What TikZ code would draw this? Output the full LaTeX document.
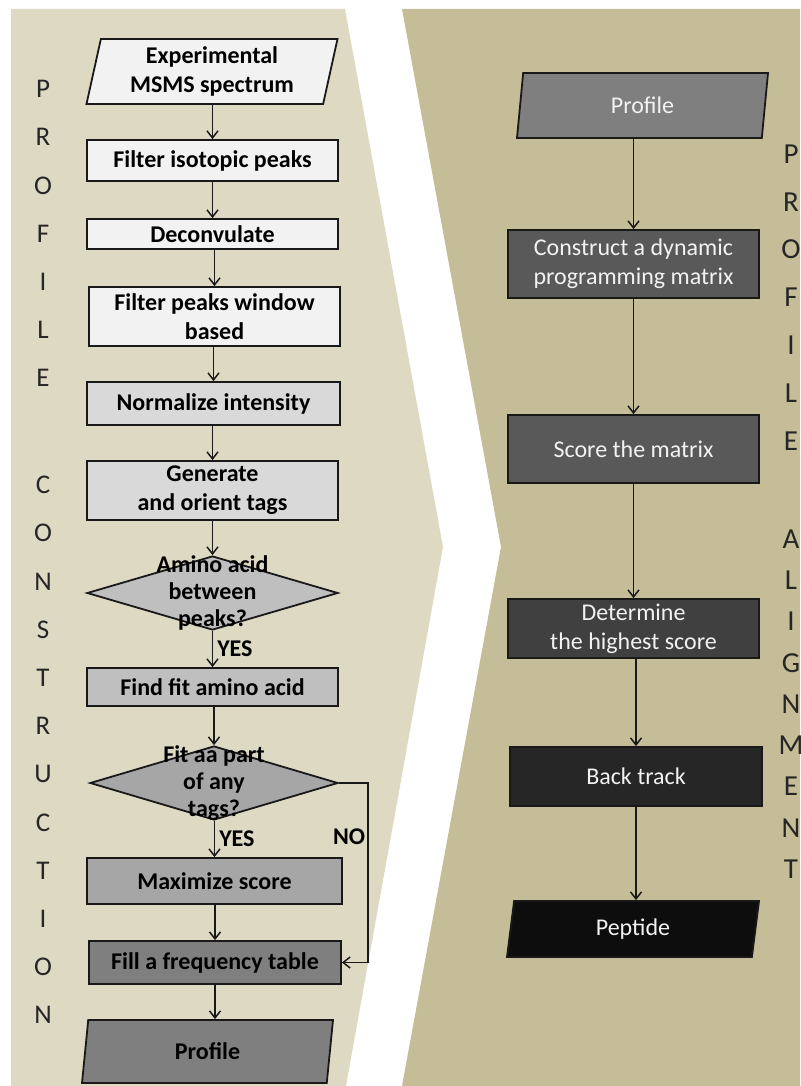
\documentclass[tikz,border=0pt]{standalone}
\usepackage{fontspec}
\setmainfont{Carlito}
\usepackage{tikz}
\usetikzlibrary{positioning,shapes.geometric,arrows.meta}
\definecolor{pale}{RGB}{221,217,195}
\definecolor{deep}{RGB}{196,189,151}
\definecolor{g05} {RGB}{242,242,242}
\definecolor{g15} {RGB}{217,217,217}
\definecolor{g25} {RGB}{191,191,191}
\definecolor{g35} {RGB}{166,166,166}
\definecolor{g50} {RGB}{127,127,127}
\definecolor{g65} {RGB}{ 89, 89, 89}
\definecolor{g75} {RGB}{ 64, 64, 64}
\definecolor{g85} {RGB}{ 38, 38, 38}
\definecolor{g95} {RGB}{ 13, 13, 13}

\begin{document}
\begin{tikzpicture}[x=0.5pt,y=-0.5pt,
    box/.style={rectangle,draw=black!90,line width=0.9pt,align=center,inner sep=2pt,
        minimum width=125.5pt,font=\bfseries\fontsize{12}{14.5}\selectfont},
    rbox/.style={box,font=\fontsize{12}{14.5}\selectfont,text=g05},
    io/.style={box,trapezium,trapezium left angle=76,trapezium right angle=104,trapezium stretches body},
    rio/.style={io,font=\fontsize{12}{14.5}\selectfont,text=g05},
    decision/.style={diamond,draw=black!90,line width=0.9pt,inner sep=0pt,
        minimum width=125.5pt,minimum height=37pt},
    dtext/.style={align=center,font=\bfseries\fontsize{12}{13.5}\selectfont},
    side/.style={font=\fontsize{13.5}{16}\selectfont,text=black!85,inner sep=0pt},
    arrow/.style={draw=black!90,line width=0.75pt,-{Straight Barb[length=3.5pt,width=5.5pt]}},
    yes/.style={font=\bfseries\fontsize{12}{14}\selectfont,inner sep=2pt}]

    \useasboundingbox (0,0) rectangle (800,1086);
    \clip (0,0) rectangle (800,1086);

    % the two panels
    \fill[pale] (11,9) -- (345,9) -- (443,547) -- (346,1086) -- (11,1086) -- cycle;
    \fill[deep] (402,9) -- (800,9) -- (800,1086) -- (402,1086) -- (501,547) -- cycle;

    % profile construction
    \node[io,fill=g05,minimum height=32.5pt] (spec) at (212,71.5) {Experimental\\MSMS spectrum};
    \node[box,fill=g05,minimum height=20.5pt] (iso) at (212.5,160.5) {Filter isotopic peaks};
    \node[box,fill=g05,minimum height=15pt] (deconv) at (212.5,234) {Deconvulate};
    \node[box,fill=g05,minimum height=29.5pt] (window) at (214.5,316.5) {Filter peaks window\\based};
    \node[box,fill=g15,minimum height=21.5pt,minimum width=126.5pt] (norm) at (213.5,403.5) {Normalize intensity};
    \node[box,fill=g15,minimum height=29.5pt] (tags) at (212.5,490.5) {Generate\\and orient tags};
    \node[decision,fill=g25,label={[dtext]center:{Amino acid\\between\\peaks?}}] (aa) at (212.5,593) {};
    \node[box,fill=g25,minimum height=19pt] (fit) at (212.5,687) {Find fit amino acid};
    \node[decision,fill=g35,minimum width=124pt,label={[dtext]center:{Fit aa part\\of any\\tags?}}] (part) at (214,783) {};
    \node[box,fill=g35,minimum height=23pt,minimum width=127.5pt] (maxs) at (214.5,881) {Maximize score};
    \node[box,fill=g50,minimum height=21.5pt,minimum width=126pt] (freq) at (215,962.5) {Fill a frequency table};
    \node[io,fill=g50,minimum height=31.5pt] (prof) at (207.5,1051.5) {Profile};

    \draw[arrow] (spec.south -| iso) -- (iso);
    \draw[arrow] (iso) -- (deconv);
    \draw[arrow] (deconv.south -| window) -- (window);
    \draw[arrow] (window.south -| norm) -- (norm);
    \draw[arrow] (norm.south -| tags) -- (tags);
    \draw[arrow] (tags) -- (aa);
    \draw[arrow] (aa) -- node[right,yes] {YES} (fit);
    \draw[arrow] (fit.south -| part) -- (part);
    \draw[arrow] (part.south -| maxs) -- node[right,yes] {YES} (maxs);
    \draw[arrow] (maxs.south -| freq) -- (freq);
    \draw[arrow] (part.east) -- ++(29,0) |- node[pos=0.15,left,yes,inner sep=1pt] {NO} (freq.east);
    \draw[arrow] (freq) -- (freq |- prof.north);

    % alignment
    \node[rio,fill=g50,minimum height=32.5pt] (rprof) at (642.5,105.5) {Profile};
    \node[rbox,fill=g65,minimum height=34pt] (rcon) at (633.5,264) {Construct a dynamic\\programming matrix};
    \node[rbox,fill=g65,minimum height=34pt] (rscore) at (633.5,449) {Score the matrix};
    \node[rbox,fill=g75,minimum height=29.5pt] (rhigh) at (633.5,628.5) {Determine\\the highest score};
    \node[rbox,fill=g85,minimum height=29.5pt,minimum width=126pt] (rback) at (636,776.5) {Back track};
    \node[rio,fill=g95,minimum height=28pt,minimum width=126pt] (rpep) at (633,929) {Peptide};

    \draw[arrow] (rprof.south -| rcon) -- (rcon);
    \draw[arrow] (rcon) -- (rscore);
    \draw[arrow] (rscore) -- (rhigh);
    \draw[arrow] (rhigh.south -| rback) -- (rback);
    \draw[arrow] (rback) -- (rback |- rpep.north);

    % vertical words
    \foreach \ch [count=\i] in {P,R,O,F,I,L,E}
        \node[side] (lp\i) at (43,{89+48.2*(\i-1)}) {\ch};
    \foreach \ch [count=\i] in {C,O,N,S,T,R,U,C,T,I,O,N}
        \node[side] (lc\i) at (43,{485+48.2*(\i-1)}) {\ch};
    \foreach \ch [count=\i] in {P,R,O,F,I,L,E}
        \node[side,font=\fontsize{14.5}{17}\selectfont] (rp\i) at (791,{154+47.8*(\i-1)}) {\ch};
    \foreach \ch [count=\i] in {A,L,I,G,N,M,E,N,T}
        \node[side,font=\fontsize{14.5}{17}\selectfont] (ra\i) at (791,{539+41.25*(\i-1)}) {\ch};

\end{tikzpicture}
\end{document}
